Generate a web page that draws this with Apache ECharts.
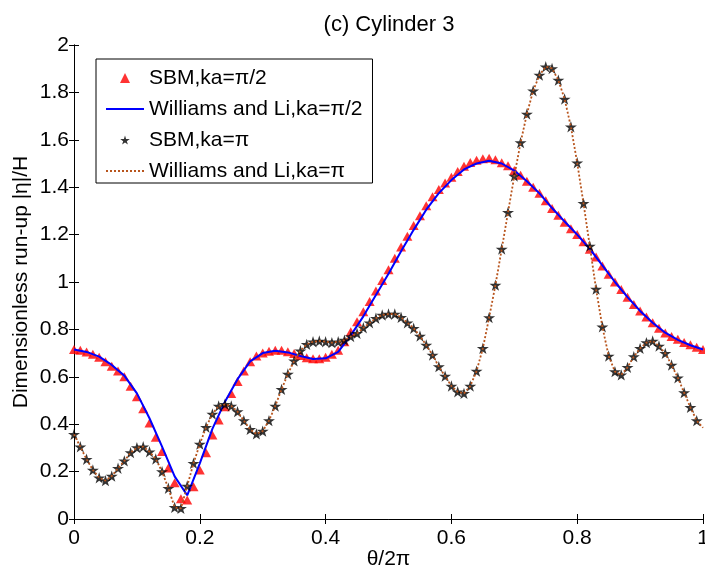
<!DOCTYPE html>
<html>
<head>
<meta charset="utf-8">
<script src="https://cdn.jsdelivr.net/npm/echarts@6/dist/echarts.min.js"></script>
<style>html,body{margin:0;padding:0;background:#fff}#c{width:705px;height:574px}</style>
</head>
<body>
<div id="c"></div>
<script>
// theta/2pi sample positions
const thetaPts = [0,0.01,0.02,0.03,0.04,0.05,0.06,0.07,0.08,0.09,
0.1,0.11,0.12,0.13,0.14,0.15,0.16,0.17,0.18,0.19,
0.2,0.21,0.22,0.23,0.24,0.25,0.26,0.27,0.28,0.29,
0.3,0.31,0.32,0.33,0.34,0.35,0.36,0.37,0.38,0.39,
0.4,0.41,0.42,0.43,0.44,0.45,0.46,0.47,0.48,0.49,
0.5,0.51,0.52,0.53,0.54,0.55,0.56,0.57,0.58,0.59,
0.6,0.61,0.62,0.63,0.64,0.65,0.66,0.67,0.68,0.69,
0.7,0.71,0.72,0.73,0.74,0.75,0.76,0.77,0.78,0.79,
0.8,0.81,0.82,0.83,0.84,0.85,0.86,0.87,0.88,0.89,
0.9,0.91,0.92,0.93,0.94,0.95,0.96,0.97,0.98,0.99,1];
const thetaLine = [0,0.02,0.04,0.06,0.08,0.1,0.12,0.14,0.16,0.18,
0.2,0.22,0.24,0.26,0.28,0.3,0.32,0.34,0.36,0.38,
0.4,0.42,0.44,0.46,0.48,0.5,0.52,0.54,0.56,0.58,
0.6,0.62,0.64,0.66,0.68,0.7,0.72,0.74,0.76,0.78,
0.8,0.82,0.84,0.86,0.88,0.9,0.92,0.94,0.96,0.98,1];

// SBM, ka=pi/2 (triangles)
const sbmHalfPi = [0.715,0.712,0.705,0.695,0.682,0.664,0.645,0.625,0.600,0.560,
0.516,0.465,0.405,0.345,0.285,0.215,0.153,0.085,0.080,0.136,
0.207,0.280,0.354,0.418,0.474,0.530,0.580,0.625,0.664,0.688,
0.700,0.708,0.712,0.712,0.706,0.698,0.690,0.680,0.676,0.676,
0.682,0.695,0.712,0.748,0.790,0.832,0.875,0.918,0.962,1.006,
1.052,1.100,1.148,1.193,1.238,1.280,1.322,1.360,1.390,1.418,
1.442,1.466,1.488,1.504,1.514,1.520,1.522,1.516,1.503,1.490,
1.470,1.450,1.425,1.400,1.374,1.343,1.310,1.282,1.252,1.225,
1.200,1.170,1.138,1.105,1.068,1.033,1.000,0.968,0.936,0.905,
0.878,0.852,0.828,0.805,0.785,0.770,0.758,0.745,0.735,0.725,
0.715];

// Williams and Li, ka=pi/2 (solid blue)
const wlHalfPi = [0.715,0.705,0.685,0.650,0.605,0.530,0.425,0.305,0.180,0.100,
0.235,0.380,0.495,0.590,0.665,0.700,0.710,0.703,0.688,0.675,
0.678,0.705,0.775,0.855,0.945,1.035,1.130,1.220,1.305,1.375,
1.430,1.475,1.500,1.512,1.500,1.470,1.425,1.374,1.312,1.255,
1.200,1.140,1.070,1.000,0.936,0.878,0.828,0.786,0.756,0.733,
0.715];

// SBM, ka=pi (stars), theta 0..0.99
const sbmPi = [0.357,0.305,0.252,0.207,0.174,0.162,0.181,0.214,0.245,0.280,
0.301,0.305,0.284,0.253,0.200,0.130,0.049,0.045,0.139,0.235,
0.316,0.387,0.443,0.477,0.484,0.477,0.453,0.415,0.378,0.359,
0.371,0.415,0.477,0.547,0.612,0.667,0.710,0.737,0.748,0.751,
0.748,0.744,0.748,0.755,0.770,0.783,0.807,0.828,0.847,0.861,
0.865,0.865,0.851,0.828,0.805,0.772,0.734,0.692,0.643,0.603,
0.561,0.537,0.530,0.561,0.624,0.720,0.850,0.987,1.139,1.294,
1.447,1.588,1.709,1.807,1.873,1.908,1.901,1.852,1.772,1.655,
1.503,1.332,1.152,0.970,0.811,0.688,0.622,0.608,0.640,0.685,
0.720,0.744,0.751,0.730,0.699,0.650,0.596,0.533,0.471,0.415];

// Williams and Li, ka=pi (dotted brown), theta 0..1
const wlPi = [0.357,0.305,0.252,0.207,0.174,0.162,0.181,0.214,0.245,0.280,
0.301,0.305,0.284,0.253,0.200,0.130,0.049,0.045,0.139,0.235,
0.316,0.387,0.443,0.477,0.484,0.477,0.453,0.415,0.378,0.359,
0.371,0.415,0.477,0.547,0.612,0.667,0.710,0.737,0.748,0.751,
0.748,0.744,0.748,0.755,0.770,0.783,0.807,0.828,0.847,0.861,
0.865,0.865,0.851,0.828,0.805,0.772,0.734,0.692,0.643,0.603,
0.561,0.537,0.530,0.561,0.624,0.720,0.850,0.987,1.139,1.294,
1.447,1.588,1.709,1.807,1.873,1.908,1.901,1.852,1.772,1.655,
1.503,1.332,1.152,0.970,0.811,0.688,0.622,0.608,0.640,0.685,
0.720,0.744,0.751,0.730,0.699,0.650,0.596,0.533,0.471,0.415,0.385];

const seriesNames = ['SBM,ka=\u03c0/2','Williams and Li,ka=\u03c0/2','SBM,ka=\u03c0','Williams and Li,ka=\u03c0'];
const titleText = '(c) Cylinder 3';
const xName = '\u03b8/2\u03c0';
const yName = 'Dimensionless run-up |\u03b7|/H';

const pair = (xs, ys) => ys.map((v, i) => [xs[i], v]);
const STAR = 'path://M50,0 L61,35 L98,35 L68,57 L79,91 L50,70 L21,91 L32,57 L2,35 L39,35 Z';
const LEG_TRI = 'path://M0,0L0,0M38,0L38,0M14,10L24,10L19,0Z';
const LEG_STAR = 'path://M0,0L0,0M38,0L38,0M19,0 L20.1,3.5 L23.8,3.5 L20.8,5.7 L21.9,9.1 L19,7 L16.1,9.1 L17.2,5.7 L14.2,3.5 L17.9,3.5 Z';
const FONT = "'Liberation Sans', Arial, sans-serif";

const chart = echarts.init(document.getElementById('c'), null, {renderer: 'canvas'});
const axisCommon = {
  axisLine: {show: true, lineStyle: {color: '#000', width: 1}},
  axisTick: {show: true, inside: true, length: 5, lineStyle: {color: '#000'}},
  splitLine: {show: false}
};
chart.setOption({
  animation: false,
  backgroundColor: '#fff',
  title: {text: titleText, left: 384, top: 9, textAlign: 'center',
    textStyle: {fontFamily: FONT, fontSize: 22, fontWeight: 'normal', color: '#000'}},
  grid: {left: 74, right: 2, top: 45, bottom: 55, containLabel: false, outerBoundsMode: 'none'},
  legend: {
    orient: 'vertical', left: 96, top: 59,
    data: [
      {name: seriesNames[0], icon: LEG_TRI},
      {name: seriesNames[1]},
      {name: seriesNames[2], icon: LEG_STAR},
      {name: seriesNames[3]}
    ],
    backgroundColor: '#fff', borderColor: '#000', borderWidth: 1, borderRadius: 0,
    padding: [7, 10, 0, 9],
    itemWidth: 38, itemHeight: 10, itemGap: 7,
    textStyle: {fontFamily: FONT, fontSize: 21, color: '#000', lineHeight: 24}
  },
  xAxis: [
    Object.assign({type: 'value', min: 0, max: 1, interval: 0.2, position: 'bottom',
      name: xName, nameLocation: 'middle', nameGap: 30, nameMoveOverlap: false,
      nameTextStyle: {fontFamily: FONT, fontSize: 21, color: '#000'},
      axisLabel: {fontFamily: FONT, fontSize: 21, color: '#000', margin: 9}}, axisCommon),
    Object.assign({type: 'value', min: 0, max: 1, interval: 0.2, position: 'top',
      axisLabel: {show: false}}, axisCommon)
  ],
  yAxis: [
    Object.assign({type: 'value', min: 0, max: 2, interval: 0.2, position: 'left',
      name: yName, nameLocation: 'middle', nameGap: 42, nameMoveOverlap: false,
      nameTextStyle: {fontFamily: FONT, fontSize: 21, color: '#000'},
      axisLabel: {fontFamily: FONT, fontSize: 21, color: '#000', margin: 5}}, axisCommon),
    Object.assign({type: 'value', min: 0, max: 2, interval: 0.2, position: 'right',
      axisLabel: {show: false}}, axisCommon)
  ],
  series: [
    {name: seriesNames[0], type: 'scatter', data: pair(thetaPts, sbmHalfPi),
      symbol: 'triangle', symbolSize: [10, 9], itemStyle: {color: '#ff0000'}, z: 2},
    {name: seriesNames[1], type: 'line', data: pair(thetaLine, wlHalfPi),
      showSymbol: false, symbol: 'none', lineStyle: {color: '#0000ff', width: 2}, itemStyle: {color: '#0000ff', opacity: 0}, z: 3},
    {name: seriesNames[2], type: 'scatter', data: pair(thetaPts, sbmPi),
      symbol: STAR, symbolSize: 12, symbolKeepAspect: true, itemStyle: {color: '#000'}, z: 4},
    {name: seriesNames[3], type: 'line', data: pair(thetaPts, wlPi),
      showSymbol: false, symbol: 'none', lineStyle: {color: '#b8541c', width: 1.8, type: [2, 2]}, itemStyle: {color: '#b8541c', opacity: 0}, z: 5}
  ]
});
</script>
</body>
</html>
